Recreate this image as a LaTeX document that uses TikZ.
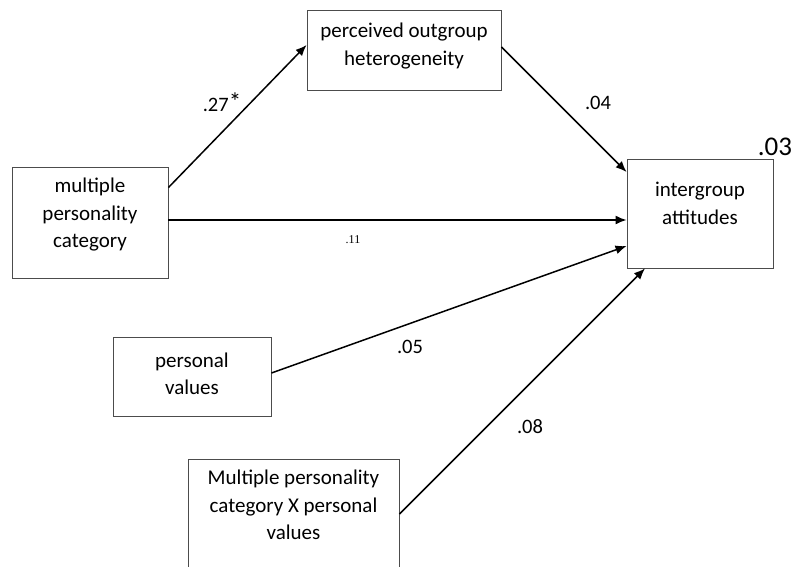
\documentclass[tikz,border=0pt]{standalone}
\usepackage{fontspec}
\setmainfont{Carlito}
\newfontfamily\timesfont{Liberation Serif}
\usetikzlibrary{arrows.meta}

\begin{document}
\begin{tikzpicture}[x=1pt,y=-1pt]
\tikzset{
  varbox/.style={draw=black!70, line width=0.9pt, align=center, inner sep=0pt,
    font=\fontsize{21}{27.5}\selectfont},
  effect/.style={line width=1.5pt, -{Latex[length=11pt,width=9pt]}},
  coef/.style={inner sep=0pt, font=\fontsize{20.5}{24}\selectfont}
}
\useasboundingbox (0,0) rectangle (793,566);
\fill [white] (0,0) rectangle (793,566);
% variables
\node [varbox, minimum width=194pt, minimum height=80pt, text depth=12pt] (ohet) at (404,50) {perceived outgroup\\heterogeneity};
\node [varbox, minimum width=156pt, minimum height=111pt, text depth=19pt] (cat) at (90,222.5) {multiple\\personality\\category};
\node [varbox, minimum width=146pt, minimum height=109pt, text depth=20pt] (att) at (700,213.5) {intergroup\\attitudes};
\node [varbox, minimum width=158pt, minimum height=79pt, text depth=6pt] (val) at (192,376.5) {personal\\values};
\node [varbox, minimum width=211pt, minimum height=122pt, text depth=30pt] (mpv) at (293.5,520) {Multiple personality\\category X personal\\values};
% paths
\draw [effect] ([yshift=35pt]cat.east) -- ([yshift=5pt]ohet.west);
\draw [effect] ([yshift=3pt]ohet.east) -- ([yshift=41.5pt]att.west);
\draw [effect] ([yshift=2.5pt]cat.east) -- ([yshift=-6.5pt]att.west);
\draw [effect] ([yshift=3.5pt]val.east) -- ([yshift=-32.5pt]att.west);
\draw [effect] ([yshift=6pt]mpv.east) -- ([xshift=-55pt]att.south);
% coefficients
\node [coef] (b27) at (222,102) {.27\raisebox{1.5pt}{\fontsize{25}{25}\selectfont*}};
\node [coef] (b04) at (598,103) {.04};
\node [coef, font=\timesfont\fontsize{12}{14}\selectfont] (b11) at (353,240) {.11};
\node [coef] (b05) at (410,347) {.05};
\node [coef] (b08) at (530,427) {.08};
\node [coef, font=\fontsize{27}{30}\selectfont] (r2) at (775,147) {.03};
\end{tikzpicture}
\end{document}
